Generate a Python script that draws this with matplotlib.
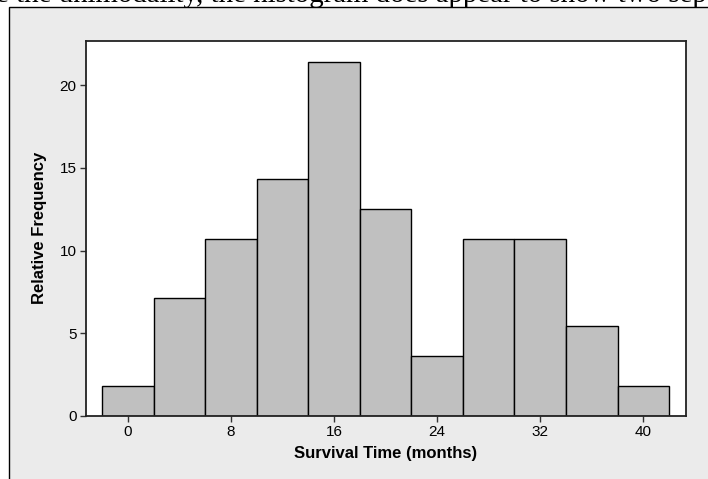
import matplotlib
matplotlib.use("Agg")
import matplotlib.pyplot as plt
from matplotlib.patches import Rectangle

# Histogram of survival times (bin centres, width 4 months)
bin_centers = [0, 4, 8, 12, 16, 20, 24, 28, 32, 36, 40]
rel_freq = [1.8, 7.1, 10.7, 14.3, 21.4, 12.5, 3.6, 10.7, 10.7, 5.4, 1.8]
x_ticks = [0, 8, 16, 24, 32, 40]
y_ticks = [0, 5, 10, 15, 20]
caption = "e the unimodality, the histogram does appear to show two sep"

plt.rcParams['font.family'] = ['Liberation Sans', 'DejaVu Sans']

fig = plt.figure(figsize=(7.08, 4.79), dpi=100)
fig.patch.set_facecolor('white')

# grey panel behind the graph, cut off on the right and bottom
panel = Rectangle((9 / 708, -0.05), 1.2, 1 - 7 / 479 + 0.05,
                  transform=fig.transFigure, facecolor='#ebebeb',
                  edgecolor='black', linewidth=1.0, zorder=-5)
fig.patches.append(panel)

# text of the page above the figure, only its lower part is visible
fig.text(-0.005, 1 - 1.5 / 479, caption, family='Liberation Serif', fontsize=20.8,
         ha='left', va='baseline')

ax = fig.add_axes([85.7 / 708, 1 - 415.7 / 479, 600.3 / 708, 375 / 479])
ax.set_facecolor('white')
ax.bar(bin_centers, rel_freq, width=4, color='#c0c0c0', edgecolor='black',
       linewidth=1.0, zorder=2)

ax.set_xlim(-3.26, 43.31)
ax.set_ylim(0, 22.7)
ax.set_xticks(x_ticks)
ax.set_yticks(y_ticks)
ax.tick_params(direction='out', length=4.5, width=1.0, color='#333333',
               labelsize=11, pad=2)
for sp in ax.spines.values():
    sp.set_linewidth(1.3)
    sp.set_color('#222222')

ax.set_xlabel('Survival Time (months)', fontsize=12, fontweight='bold', labelpad=5)
ax.set_ylabel('Relative Frequency', fontsize=12, fontweight='bold', labelpad=9)

fig.savefig('out.png', dpi=100)
